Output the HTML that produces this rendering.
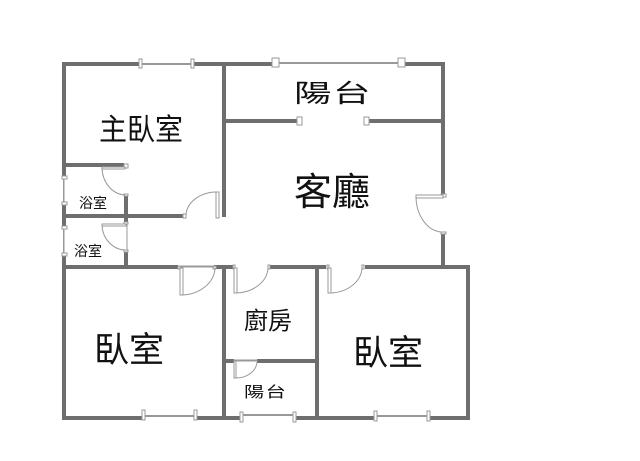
<!DOCTYPE html>
<html><head><meta charset="utf-8"><style>
html,body{margin:0;padding:0;background:#fff;width:640px;height:461px;overflow:hidden}
svg{display:block}
text{font-family:"Liberation Sans","Noto Sans CJK TC",sans-serif;fill:#111}
.w{stroke:#6e6e6e;stroke-width:4;fill:none}
.a{stroke:#999;stroke-width:1;fill:none}
.l{stroke:#999;stroke-width:1;fill:#fff}
.p{stroke:#999;stroke-width:1;fill:#fff}
.g{stroke:#999;stroke-width:2;fill:none}
</style></head><body>
<svg width="640" height="461" viewBox="0 0 640 461" xmlns="http://www.w3.org/2000/svg">
<rect width="640" height="461" fill="#fff"/>
<path class="w" d="M62 64H140M193 64H276M403 64H445M443 64V195M443 232V267M64 64V178M64 203V228M64 254V420M224 64V217M224 121H299M366 121H443M64 165H124M64 216H184M126 196V267M64 267H178M214 267H233M270 267H326M365 267H470M468 267V420M224 267V420M317 267V420M224 361H234M257 361H317M62 418H143M196 418H241M294 418H375M428 418H470"/>
<path class="g" d="M140 64H193M276 63H403M143 416H196M241 415H294M375 416H428M64 178V203M64 228V254"/>
<path stroke="#fff" stroke-width="1" fill="none" d="M65 178V203M65 228V254"/>
<path fill="#fff" d="M124 224h4v27h-4z"/>
<path class="a" d="M127 224V250"/>
<!-- window posts -->
<g class="p">
<rect x="139" y="59" width="3" height="9"/><rect x="191" y="59" width="3" height="9"/>
<rect x="272" y="58" width="7" height="9"/><rect x="398" y="58" width="7" height="9"/>
<rect x="297" y="117" width="5" height="8"/><rect x="364" y="117" width="5" height="8"/>
<rect x="142" y="410" width="3" height="10"/><rect x="194" y="410" width="3" height="10"/>
<rect x="240" y="412" width="3" height="10"/><rect x="293" y="412" width="3" height="10"/>
<rect x="374" y="411" width="3" height="10"/><rect x="427" y="411" width="3" height="10"/>
<rect x="62" y="176" width="5" height="3"/><rect x="62" y="202" width="5" height="3"/>
<rect x="62" y="226" width="5" height="3"/><rect x="62" y="253" width="5" height="3"/>
<rect x="124" y="164" width="4" height="4"/><rect x="124" y="194" width="4" height="2"/>
<rect x="183" y="214" width="3" height="4"/><rect x="124" y="222" width="4" height="2"/><rect x="124" y="250" width="4" height="2"/>
<rect x="178" y="266" width="3" height="3"/><rect x="213" y="266" width="3" height="3"/>
<rect x="233" y="265" width="2" height="4"/><rect x="268" y="265" width="2" height="4"/>
<rect x="327" y="265" width="2" height="4"/><rect x="362" y="265" width="2" height="4"/>
<rect x="441" y="232" width="5" height="2"/><rect x="441" y="194" width="5" height="3"/>
</g>
<!-- door leaves -->
<g class="l">
<rect x="102" y="167" width="23" height="2"/>
<rect x="102" y="224" width="24" height="2"/>
<rect x="416" y="195" width="27" height="3"/>
<rect x="216" y="192" width="3" height="26"/>
<rect x="180" y="268" width="3" height="27"/>
<rect x="234" y="268" width="3" height="25"/>
<rect x="328" y="268" width="3" height="25"/>
<rect x="234" y="361" width="2" height="17"/>
<rect x="234" y="360" width="23" height="1"/>
<rect x="180" y="266" width="34" height="1"/>
</g>
<!-- arcs -->
<g class="a">
<path d="M102 168A24 28 0 0 0 125 195"/>
<path d="M102 225A24 26 0 0 0 125 250"/>
<path d="M416 197A27 36 0 0 0 441 232"/>
<path d="M186 215A31 24 0 0 1 216 192"/>
<path d="M181 295A34 28 0 0 0 215 268"/>
<path d="M236 293A33 26 0 0 0 268 268"/>
<path d="M330 293A33 26 0 0 0 362 268"/>
<path d="M236 378A21 17 0 0 0 257 362"/>
</g>
<!-- labels -->
<text x="99" y="140" font-size="30" textLength="84" lengthAdjust="spacingAndGlyphs">主臥室</text>
<text font-size="25" transform="translate(294 102) scale(1.5 1)" style="letter-spacing:1px">陽台</text>
<text x="294" y="205" font-size="38">客廳</text>
<text x="79" y="208" font-size="14">浴室</text>
<text x="74" y="256" font-size="14">浴室</text>
<text x="94" y="362" font-size="35">臥室</text>
<text x="353" y="365" font-size="35">臥室</text>
<text x="244" y="329" font-size="24">廚房</text>
<text font-size="15" transform="translate(244 397) scale(1.35 1)" style="letter-spacing:1px">陽台</text>
</svg>
</body></html>
